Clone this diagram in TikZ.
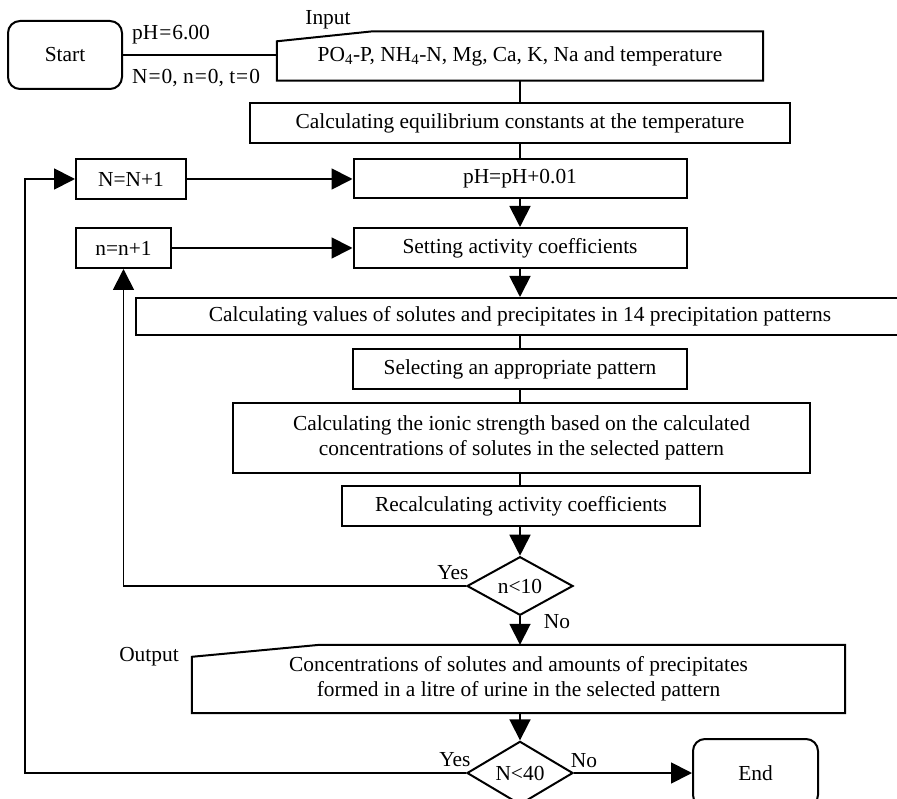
\documentclass[tikz,border=0pt]{standalone}
\usepackage{fontspec}
\setmainfont{Liberation Serif}
\usetikzlibrary{arrows.meta,shapes.geometric,calc}

\tikzset{
  block/.style={draw, line width=2pt, inner sep=0pt, align=center},
  termbox/.style={block, rounded corners=12pt},
  iobox/.style={inner sep=0pt, align=center},
  decbox/.style={diamond, draw, line width=2pt, inner sep=0pt,
    minimum width=106pt, minimum height=58pt},
  lbl/.style={inner sep=0pt},
  link/.style={line width=1.5pt},
  arrowlink/.style={line width=1.8pt, -{Triangle[length=21pt,width=21pt]}},
}

\begin{document}
\begin{tikzpicture}[x=1pt,y=-1pt]
        \useasboundingbox (0,0) rectangle (897,799);
        {\fontsize{21.4}{25}\selectfont

        % Start and input
        \node [termbox, minimum width=114pt, minimum height=68pt] (start) at (65,55) {Start};%
        \node [iobox, minimum width=486pt, minimum height=49pt] (input) at (520,56)
          {PO\textsubscript{4}-P, NH\textsubscript{4}-N, Mg, Ca, K, Na and temperature};%
        \draw [line width=2pt] ($(input.north west)+(0,10)$) -- ($(input.north west)+(96,0)$)
          -- (input.north east) -- (input.south east) -- (input.south west) -- cycle;%
        \node [lbl, anchor=center] (inlabel) at (328,20) {Input};%
        \node [lbl, anchor=base west] (initph) at (132,40) {pH\kern1pt=\kern1pt6.00};%
        \node [lbl, anchor=base west] (initn) at (132,84) {N\kern1pt=\kern1pt0, n\kern1pt=\kern1pt0, t\kern1pt=\kern1pt0};%

        % Main column of process boxes
        \node [block, minimum width=540pt, minimum height=40pt] (equil) at (520,123)
          {Calculating equilibrium constants at the temperature};%
        \node [block, minimum width=333pt, minimum height=39pt] (ph) at (520,179) {pH=pH+0.01};%
        \node [block, minimum width=333pt, minimum height=40pt] (setact) at (520,248) {Setting activity coefficients};%
        \node [block, minimum width=768pt, minimum height=37pt] (values) at (520,316.5)
          {Calculating values of solutes and precipitates in 14 precipitation patterns};%
        \node [block, minimum width=334pt, minimum height=40pt] (select) at (520,369) {Selecting an appropriate pattern};%
        \node [block, minimum width=577pt, minimum height=70pt] (ionic) at (521.5,438)
          {Calculating the ionic strength based on the calculated\\concentrations of solutes in the selected pattern};%
        \node [block, minimum width=358pt, minimum height=40pt] (recalc) at (521,506) {Recalculating activity coefficients};%

        % Counters
        \node [block, minimum width=110pt, minimum height=40pt] (bigstep) at (131,179) {N=N+1};%
        \node [block, minimum width=95pt, minimum height=40pt] (smallstep) at (123.5,248) {n=n+1};%

        % Decisions
        \node [decbox] (inner) at (520,586) {n<10};%
        \node [decbox] (outer) at (520,773) {N<40};%
        \node [lbl] (inyes) at (453,573) {Yes};%
        \node [lbl] (inno) at (557,622) {No};%
        \node [lbl] (outyes) at (455,760) {Yes};%
        \node [lbl] (outno) at (584,761) {No};%

        % Output and end
        \node [iobox, minimum width=653pt, minimum height=68pt] (output) at (518.5,679)
          {Concentrations of solutes and amounts of precipitates\\formed in a litre of urine in the selected pattern};%
        \draw [line width=2pt] ($(output.north west)+(0,12)$) -- ($(output.north west)+(128,0)$)
          -- (output.north east) -- (output.south east) -- (output.south west) -- cycle;%
        \node [lbl] (outlabel) at (149,657) {Output};%
        \node [termbox, minimum width=125pt, minimum height=68pt] (finish) at (755.5,773) {End};%

        % Connectors
        \draw [link] (start.east) -- (start.east -| input.west);%
        \draw [link] (input.south) -- (equil.north);%
        \draw [link] (equil.south) -- (ph.north);%
        \draw [arrowlink] (ph.south) -- (setact.north);%
        \draw [arrowlink] (setact.south) -- (values.north);%
        \draw [link] (values.south) -- (select.north);%
        \draw [link] (select.south) -- (select.south |- ionic.north);%
        \draw [link] (select.south |- ionic.south) -- (select.south |- recalc.north);%
        \draw [arrowlink] (select.south |- recalc.south) -- (inner.north);%
        \draw [arrowlink] (inner.south) -- (inner.south |- output.north);%
        \draw [arrowlink] (inner.south |- output.south) -- (outer.north);%
        \draw [arrowlink] (outer.east) -- (finish.west);%

        % Loops back
        \draw [arrowlink] (inner.west) -| (smallstep.south);%
        \draw [arrowlink] (smallstep.east) -- (setact.west);%
        \coordinate (loopcorner) at (25,773);%
        \draw [arrowlink] (outer.west) -- (loopcorner) |- (bigstep.west);%
        \draw [arrowlink] (bigstep.east) -- (bigstep.east -| ph.west);%
        }
\end{tikzpicture}
\end{document}
